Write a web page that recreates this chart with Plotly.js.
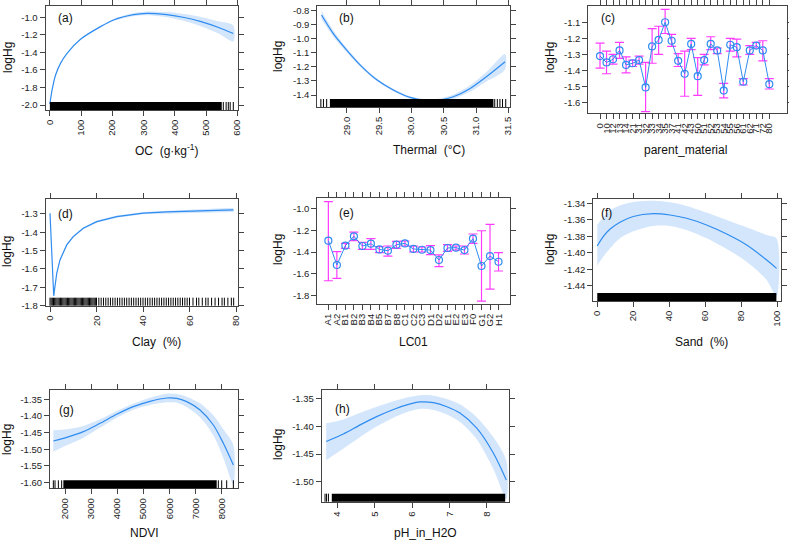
<!DOCTYPE html>
<html><head><meta charset="utf-8">
<script src="https://cdn.plot.ly/plotly-3.0.1.min.js"></script>
<style>html,body{margin:0;padding:0;background:#fff}#chart{width:789px;height:541px}</style>
</head><body><div id="chart"></div>
<script>
// ---------- (a) OC ----------
const ocX   = [0,2,7,18,34,55,98,162,204,268,311,374,430,481,540,587];
const ocFit = [-1.99,-1.94,-1.83,-1.66,-1.525,-1.41,-1.25,-1.106,-1.03,-0.97,-0.955,-0.97,-1.002,-1.046,-1.116,-1.185];
const ocHi  = [-1.98,-1.932,-1.824,-1.655,-1.52,-1.405,-1.244,-1.098,-1.018,-0.952,-0.933,-0.94,-0.962,-0.993,-1.046,-1.093];
const ocLo  = [-2.0,-1.948,-1.836,-1.665,-1.53,-1.415,-1.256,-1.114,-1.042,-0.988,-0.977,-1.0,-1.042,-1.099,-1.186,-1.277];
const ocRugDense = [[0,550]];
const ocRugTicks = [555,564,571,577,587];
const ocXTicks = [0,100,200,300,400,500,600];
const ocXLabels = ['0','100','200','300','400','500','600'];
const ocYTicks = [-2.0,-1.8,-1.6,-1.4,-1.2,-1.0];
const ocYLabels = ['-2.0','-1.8','-1.6','-1.4','-1.2','-1.0'];

// ---------- (b) Thermal ----------
const thX   = [28.61,28.79,29.0,29.21,29.46,29.72,29.98,30.24,30.44,30.65,30.91,31.16,31.45];
const thFit = [-0.831,-0.961,-1.08,-1.187,-1.29,-1.364,-1.417,-1.44,-1.436,-1.412,-1.353,-1.27,-1.163];
const thHi  = [-0.801,-0.939,-1.065,-1.175,-1.28,-1.355,-1.408,-1.43,-1.424,-1.397,-1.331,-1.237,-1.108];
const thLo  = [-0.861,-0.983,-1.095,-1.199,-1.30,-1.373,-1.426,-1.45,-1.448,-1.427,-1.375,-1.303,-1.218];
const thRugDense = [[28.74,31.27]];
const thRugTicks = [28.60,28.64,28.69,31.29,31.33,31.37,31.41,31.46];
const thXTicks = [29.0,29.5,30.0,30.5,31.0,31.5];
const thXLabels = ['29.0','29.5','30.0','30.5','31.0','31.5'];
const thYTicks = [-1.4,-1.3,-1.2,-1.1,-1.0,-0.9,-0.8];
const thYLabels = ['-1.4','-1.3','-1.2','-1.1','-1.0','-0.9','-0.8'];

// ---------- (c) parent_material ----------
const pmLabels = ['0','10','12','13','14','21','31','32','33','34','35','37','41','42','43','50','51','52','53','54','55','56','61','62','71','72','80'];
const pmFit = [-1.31,-1.35,-1.33,-1.275,-1.365,-1.355,-1.335,-1.505,-1.25,-1.21,-1.10,-1.215,-1.34,-1.42,-1.235,-1.435,-1.335,-1.235,-1.275,-1.525,-1.24,-1.255,-1.47,-1.275,-1.245,-1.275,-1.485];
const pmHi  = [-1.23,-1.28,-1.30,-1.225,-1.315,-1.335,-1.31,-1.35,-1.14,-1.125,-1.02,-1.175,-1.295,-1.28,-1.20,-1.32,-1.30,-1.19,-1.26,-1.48,-1.20,-1.205,-1.45,-1.245,-1.225,-1.215,-1.45];
const pmLo  = [-1.385,-1.42,-1.36,-1.325,-1.415,-1.375,-1.36,-1.655,-1.355,-1.30,-1.17,-1.25,-1.375,-1.56,-1.27,-1.555,-1.365,-1.27,-1.295,-1.57,-1.28,-1.315,-1.49,-1.30,-1.26,-1.34,-1.515];
const pmYTicks = [-1.6,-1.5,-1.4,-1.3,-1.2,-1.1];
const pmYLabels = ['-1.6','-1.5','-1.4','-1.3','-1.2','-1.1'];

// ---------- (d) Clay ----------
const clX   = [0,1.6,2.9,4.3,7.2,10.0,14.3,20.1,28.7,40.1,50.2,64.5,78.9];
const clFit = [-1.296,-1.747,-1.624,-1.551,-1.469,-1.424,-1.378,-1.342,-1.315,-1.296,-1.289,-1.284,-1.278];
const clHi  = [-1.293,-1.741,-1.618,-1.545,-1.463,-1.418,-1.372,-1.336,-1.309,-1.29,-1.282,-1.275,-1.266];
const clLo  = [-1.299,-1.753,-1.630,-1.557,-1.475,-1.430,-1.384,-1.348,-1.321,-1.302,-1.296,-1.293,-1.290];
const clRugDense = [];
const clRugTicks = [0,0.5,1,1.5,2,2.5,3,3.5,4,4.5,5,5.5,6,6.5,7,7.5,8,8.5,9,9.5,10,10.5,11,11.5,12,12.5,13,13.5,14,14.5,15,15.5,16,16.5,17,17.5,18,18.5,19,19.5,20,21,22,23,24,25,26,27,28,29,30,31,32,33,34,35,36,37,38,39,40,41,42,43,44,45,46,47,48,49,50,51,52,53,54,55,56,57,58,59,60,61.5,63,64,65.5,67,68,69.5,71,72.5,74,75,76.5,78,79];
const clXTicks = [0,20,40,60,80];
const clXLabels = ['0','20','40','60','80'];
const clYTicks = [-1.8,-1.7,-1.6,-1.5,-1.4,-1.3];
const clYLabels = ['-1.8','-1.7','-1.6','-1.5','-1.4','-1.3'];

// ---------- (e) LC01 ----------
const lcLabels = ['A1','A2','B1','B2','B3','B4','B5','B7','B8','C1','C2','C3','D1','D2','E1','E2','E3','F0','G1','G2','H1'];
const lcFit = [-1.296,-1.519,-1.342,-1.256,-1.345,-1.324,-1.376,-1.388,-1.333,-1.321,-1.372,-1.379,-1.382,-1.473,-1.363,-1.36,-1.382,-1.278,-1.528,-1.437,-1.489];
const lcHi  = [-0.939,-1.397,-1.32,-1.217,-1.311,-1.278,-1.351,-1.345,-1.302,-1.299,-1.345,-1.354,-1.342,-1.427,-1.333,-1.345,-1.345,-1.235,-1.205,-1.147,-1.406];
const lcLo  = [-1.663,-1.641,-1.366,-1.296,-1.376,-1.376,-1.406,-1.437,-1.366,-1.345,-1.40,-1.40,-1.424,-1.534,-1.394,-1.382,-1.418,-1.321,-1.849,-1.739,-1.574];
const lcYTicks = [-1.8,-1.6,-1.4,-1.2,-1.0];
const lcYLabels = ['-1.8','-1.6','-1.4','-1.2','-1.0'];

// ---------- (f) Sand ----------
const sdX   = [0,3.3,7.0,12.6,20,31.1,40.4,49.6,60.7,71.9,83,94.1,99.6];
const sdFit = [-1.3918,-1.3805,-1.3716,-1.363,-1.356,-1.3526,-1.3542,-1.3582,-1.3663,-1.3773,-1.3906,-1.4088,-1.419];
const sdHi  = [-1.3663,-1.357,-1.349,-1.3428,-1.3385,-1.337,-1.3388,-1.3432,-1.3513,-1.3603,-1.3692,-1.3785,-1.3826];
const sdLo  = [-1.4157,-1.405,-1.395,-1.3825,-1.374,-1.3675,-1.3675,-1.3724,-1.3825,-1.3955,-1.4109,-1.433,-1.4534];
const sdRugDense = [[0,99.5]];
const sdRugTicks = [];
const sdXTicks = [0,20,40,60,80,100];
const sdXLabels = ['0','20','40','60','80','100'];
const sdYTicks = [-1.44,-1.42,-1.40,-1.38,-1.36,-1.34];
const sdYLabels = ['-1.44','-1.42','-1.40','-1.38','-1.36','-1.34'];

// ---------- (g) NDVI ----------
const ndX   = [1553,2064,2702,3340,3979,4617,5255,5894,6277,6660,7170,7681,8064,8447];
const ndFit = [-1.475,-1.464,-1.447,-1.422,-1.395,-1.372,-1.356,-1.346,-1.347,-1.357,-1.382,-1.427,-1.482,-1.547];
const ndHi  = [-1.443,-1.44,-1.43,-1.41,-1.385,-1.363,-1.345,-1.333,-1.334,-1.342,-1.362,-1.398,-1.44,-1.487];
const ndLo  = [-1.507,-1.488,-1.465,-1.435,-1.405,-1.381,-1.367,-1.359,-1.36,-1.373,-1.404,-1.458,-1.526,-1.605];
const ndRugDense = [[1936,7809]];
const ndRugTicks = [1553,1617,1745,1872,7872,8000,8191,8447];
const ndXTicks = [2000,3000,4000,5000,6000,7000,8000];
const ndXLabels = ['2000','3000','4000','5000','6000','7000','8000'];
const ndYTicks = [-1.60,-1.55,-1.50,-1.45,-1.40,-1.35];
const ndYLabels = ['-1.60','-1.55','-1.50','-1.45','-1.40','-1.35'];

// ---------- (h) pH_in_H2O ----------
const phX   = [3.70,4.16,4.61,5.05,5.5,5.95,6.21,6.57,6.93,7.29,7.73,8.18,8.52];
const phFit = [-1.427,-1.4135,-1.397,-1.382,-1.369,-1.359,-1.3554,-1.3567,-1.364,-1.376,-1.403,-1.449,-1.497];
const phHi  = [-1.394,-1.387,-1.375,-1.364,-1.354,-1.346,-1.343,-1.344,-1.35,-1.36,-1.383,-1.42,-1.462];
const phLo  = [-1.461,-1.44,-1.419,-1.40,-1.384,-1.372,-1.368,-1.37,-1.378,-1.392,-1.423,-1.478,-1.532];
const phRugDense = [[3.85,8.49]];
const phRugTicks = [3.67,3.71,3.76];
const phXTicks = [4,5,6,7,8];
const phXLabels = ['4','5','6','7','8'];
const phYTicks = [-1.50,-1.45,-1.40,-1.35];
const phYLabels = ['-1.50','-1.45','-1.40','-1.35'];

// ================= drawing =================
const W=789, H=541;
const FONT='"Liberation Sans", Arial, Helvetica, sans-serif';
const LINE='#2f8cf0', BAND='#d3e6fc', ERR='#ff3cff', BOX='#444';
const traces=[], shapes=[], annotations=[];
const layout={width:W,height:H,margin:{l:0,r:0,t:0,b:0},paper_bgcolor:'#fff',plot_bgcolor:'#fff',
  showlegend:false,font:{family:FONT,size:10,color:'#000'},shapes:shapes,annotations:annotations};

function axisBase(){
  return {showline:true,linecolor:BOX,linewidth:1,mirror:'ticks',ticks:'outside',ticklen:5,tickcolor:BOX,tickwidth:1,
    showgrid:false,zeroline:false,tickfont:{family:FONT,size:9.5,color:'#222'},fixedrange:true,tickmode:'array'};
}
function addPanel(i, box, xr, yr, xt, xtt, yt, ytt){
  const id = i===1?'':String(i);
  layout['xaxis'+id]=Object.assign(axisBase(),{domain:[box[0]/W,box[1]/W],range:xr,anchor:'y'+id,tickvals:xt,ticktext:xtt,tickangle:-90});
  layout['yaxis'+id]=Object.assign(axisBase(),{domain:[1-box[3]/H,1-box[2]/H],range:yr,anchor:'x'+id,tickvals:yt,ticktext:ytt});
  return {x:'x'+id,y:'y'+id,h:8/(box[3]-box[2])};
}
function curve(p, xs, fit, lo, hi, shape){
  traces.push({type:'scatter',x:xs.concat(xs.slice().reverse()),y:hi.concat(lo.slice().reverse()),xaxis:p.x,yaxis:p.y,
    mode:'lines',fill:'toself',fillcolor:BAND,line:{width:0,shape:shape,smoothing:0.8},hoverinfo:'skip'});
  traces.push({type:'scatter',x:xs,y:fit,xaxis:p.x,yaxis:p.y,mode:'lines',line:{color:LINE,width:1.2,shape:shape,smoothing:0.8}});
}
function rug(p, dense, ticks){
  const yr=p.y+' domain';
  dense.forEach(d=>shapes.push({type:'rect',xref:p.x,yref:yr,x0:d[0],x1:d[1],y0:0,y1:p.h,fillcolor:'#000',line:{width:0}}));
  ticks.forEach(v=>shapes.push({type:'line',xref:p.x,yref:yr,x0:v,x1:v,y0:0,y1:p.h,line:{color:'#000',width:1}}));
}
function cat(p, labels, fit, lo, hi){
  const idx=labels.map((_,k)=>k);
  traces.push({type:'scatter',x:idx,y:fit,xaxis:p.x,yaxis:p.y,mode:'lines+markers',line:{color:LINE,width:1},
    marker:{symbol:'circle-open',size:7,color:LINE,line:{width:1.2,color:LINE}},
    error_y:{type:'data',symmetric:false,array:hi.map((h,k)=>h-fit[k]),arrayminus:fit.map((f,k)=>f-lo[k]),color:ERR,thickness:1.2,width:4.5}});
  return idx;
}
function ann(text,x,y,o){
  annotations.push(Object.assign({text:text,xref:'paper',yref:'paper',x:x/W,y:1-y/H,showarrow:false,
    font:{family:FONT,size:12,color:'#111'},xanchor:'center',yanchor:'middle'},o||{}));
}

// panels: box = [left, right, top, bottom] px
const pa=addPanel(1,[45.5,238.3,6,110],[-14,603],[-2.057,-0.871],ocXTicks,ocXLabels,ocYTicks,ocYLabels);
curve(pa,ocX,ocFit,ocLo,ocHi,'spline'); rug(pa,ocRugDense,ocRugTicks);

const pb=addPanel(2,[317.3,510,6,107],[28.545,31.526],[-1.485,-0.767],thXTicks,thXLabels,thYTicks,thYLabels);
curve(pb,thX,thFit,thLo,thHi,'spline'); rug(pb,thRugDense,thRugTicks);

const pcIdx=pmLabels.map((_,k)=>k);
const pc=addPanel(3,[588.3,786.7,6,113.3],[-1.8,28.67],[-1.666,-0.999],pcIdx,pmLabels,pmYTicks,pmYLabels);
cat(pc,pmLabels,pmFit,pmLo,pmHi);

const pd=addPanel(4,[45.7,238.3,199.3,305.7],[-1.85,80.99],[-1.801,-1.22],clXTicks,clXLabels,clYTicks,clYLabels);
curve(pd,clX,clFit,clLo,clHi,'linear'); rug(pd,clRugDense,clRugTicks);

const peIdx=lcLabels.map((_,k)=>k);
const pe=addPanel(5,[317.3,510,198.3,304],[-1.3,21.35],[-1.876,-0.908],peIdx,lcLabels,lcYTicks,lcYLabels);
cat(pe,lcLabels,lcFit,lcLo,lcHi);

const pf=addPanel(6,[593.3,780.7,199,301],[-2.2,101.9],[-1.4586,-1.3348],sdXTicks,sdXLabels,sdYTicks,sdYLabels);
curve(pf,sdX,sdFit,sdLo,sdHi,'spline'); rug(pf,sdRugDense,sdRugTicks);

const pg=addPanel(7,[50,238.3,390,488.3],[1425,8636],[-1.617,-1.322],ndXTicks,ndXLabels,ndYTicks,ndYLabels);
curve(pg,ndX,ndFit,ndLo,ndHi,'spline'); rug(pg,ndRugDense,ndRugTicks);

const ph=addPanel(8,[321.7,509.3,390,501.7],[3.58,8.6],[-1.5363,-1.3337],phXTicks,phXLabels,phYTicks,phYLabels);
curve(ph,phX,phFit,phLo,phHi,'spline'); rug(ph,phRugDense,phRugTicks);

// y titles
[[8,58],[278,57],[550,58],[7,252],[278,250],[550,250],[7,440],[278,445]].forEach(q=>ann('logHg',q[0],q[1],{textangle:-90}));
// x titles
ann('OC  (g·kg<sup>-1</sup>)',166,150);
ann('Thermal  (°C)',429,150);
ann('parent_material',685,150);
ann('Clay  (%)',156,342);
ann('LC01',413,342);
ann('Sand  (%)',701,342);
ann('NDVI',144,533);
ann('pH_in_H2O',425,533);
// panel labels
[['(a)',56,18],['(b)',337,18],['(c)',599,18],['(d)',56,214],['(e)',337,213],['(f)',599,213],['(g)',57,410],['(h)',333,409]]
  .forEach(q=>ann(q[0],q[1],q[2],{xanchor:'left'}));

Plotly.newPlot('chart',traces,layout,{displayModeBar:false,staticPlot:true});
</script></body></html>
